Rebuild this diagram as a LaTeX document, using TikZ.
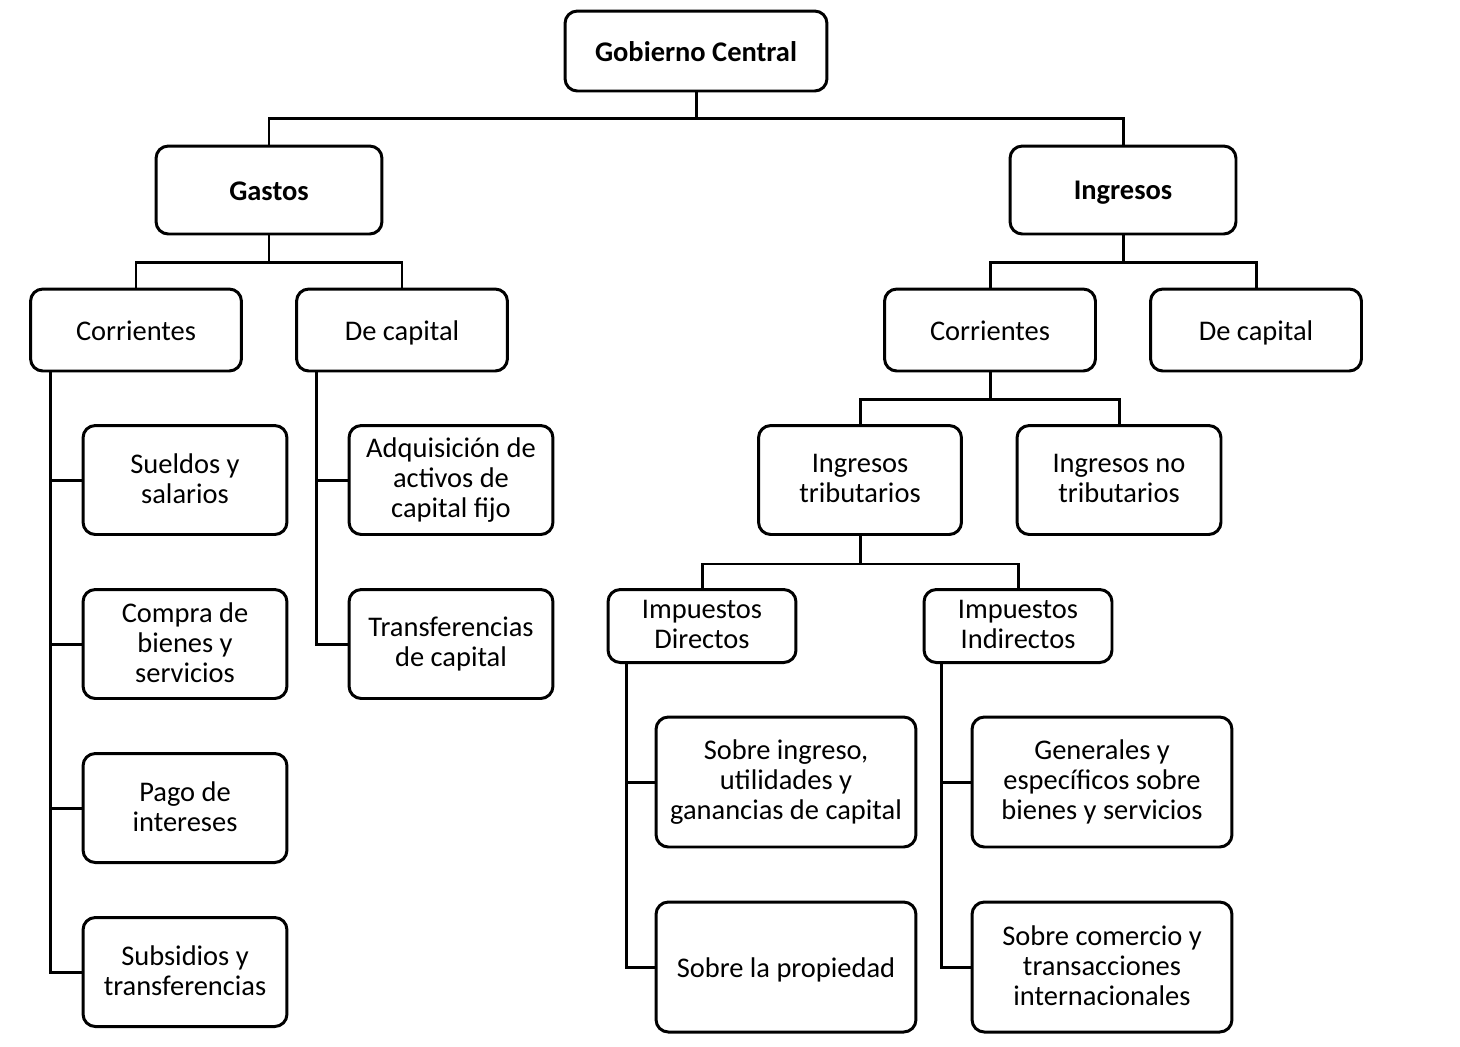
\documentclass[tikz,border=0pt]{standalone}
\usepackage{fontspec}
\setmainfont{Carlito}
\usetikzlibrary{calc}
\newcommand{\puntal}{\rule[-1.6pt]{0pt}{15.6pt}}
\begin{document}
\begin{tikzpicture}[x=0.02cm, y=-0.02cm,
        caja/.style={draw, rectangle, rounded corners=7pt, line width=1.7pt, align=center, inner sep=0pt,
            font=\fontsize{16.2}{17.2}\selectfont, execute at begin node=\puntal, execute at end node=\puntal},
        linea/.style={line width=1.7pt}]
        \useasboundingbox (0,0) rectangle (1460,1046);
        % niveles superiores
        \node[caja, minimum width=5.24cm, minimum height=1.6cm, font=\fontsize{16.2}{17.2}\selectfont\bfseries] (GC) at (696,51) {Gobierno Central};
        \node[caja, minimum width=4.52cm, minimum height=1.76cm, font=\fontsize{16.2}{17.2}\selectfont\bfseries] (Gastos) at (269,190) {Gastos};
        \node[caja, minimum width=4.52cm, minimum height=1.76cm, font=\fontsize{16.2}{17.2}\selectfont\bfseries] (Ingresos) at (1123,190) {Ingresos};
        \node[caja, minimum width=4.22cm, minimum height=1.64cm] (GCor) at (136,330) {Corrientes};
        \node[caja, minimum width=4.22cm, minimum height=1.64cm] (GCap) at (402,330) {De capital};
        \node[caja, minimum width=4.22cm, minimum height=1.64cm] (ICor) at (990,330) {Corrientes};
        \node[caja, minimum width=4.22cm, minimum height=1.64cm] (ICap) at (1256,330) {De capital};
        % gastos corrientes
        \node[caja, minimum width=4.08cm, minimum height=2.18cm] (Sueldos) at (185,480) {Sueldos y\\salarios};
        \node[caja, minimum width=4.08cm, minimum height=2.18cm] (Compra) at (185,644) {Compra de\\bienes y\\servicios};
        \node[caja, minimum width=4.08cm, minimum height=2.18cm] (Pago) at (185,808) {Pago de\\intereses};
        \node[caja, minimum width=4.08cm, minimum height=2.18cm] (Subsidios) at (185,972) {Subsidios y\\transferencias};
        % gastos de capital
        \node[caja, minimum width=4.08cm, minimum height=2.18cm] (Adquisicion) at (451,480) {Adquisición de\\activos de\\capital fijo};
        \node[caja, minimum width=4.08cm, minimum height=2.18cm] (Transf) at (451,644) {Transferencias\\de capital};
        % ingresos corrientes
        \node[caja, minimum width=4.06cm, minimum height=2.18cm] (ITrib) at (860,480) {Ingresos\\tributarios};
        \node[caja, minimum width=4.08cm, minimum height=2.18cm] (INoTrib) at (1119,480) {Ingresos no\\tributarios};
        \node[caja, minimum width=3.76cm, minimum height=1.46cm] (IDir) at (702,626) {Impuestos\\Directos};
        \node[caja, minimum width=3.76cm, minimum height=1.46cm] (IInd) at (1018,626) {Impuestos\\Indirectos};
        \node[caja, minimum width=5.2cm, minimum height=2.6cm] (SIngreso) at (786,782) {Sobre ingreso,\\utilidades y\\ganancias de capital};
        \node[caja, minimum width=5.2cm, minimum height=2.6cm] (SProp) at (786,967) {Sobre la propiedad};
        \node[caja, minimum width=5.2cm, minimum height=2.6cm] (Generales) at (1102,782) {Generales y\\específicos sobre\\bienes y servicios};
        \node[caja, minimum width=5.2cm, minimum height=2.6cm] (SComercio) at (1102,967) {Sobre comercio y\\transacciones\\internacionales};
        % conexiones
        \draw[linea] (GC.south) -- ++(0,26) -| (Gastos.north);
        \draw[linea] (GC.south) -- ++(0,26) -| (Ingresos.north);
        \draw[linea] (Gastos.south) -- ++(0,27) -| (GCor.north);
        \draw[linea] (Gastos.south) -- ++(0,27) -| (GCap.north);
        \draw[linea] (Ingresos.south) -- ++(0,27) -| (ICor.north);
        \draw[linea] (Ingresos.south) -- ++(0,27) -| (ICap.north);
        \draw[linea] (ICor.south) -- ++(0,27) -| (ITrib.north);
        \draw[linea] (ICor.south) -- ++(0,27) -| (INoTrib.north);
        \draw[linea] (ITrib.south) -- ++(0,28) -| (IDir.north);
        \draw[linea] (ITrib.south) -- ++(0,28) -| (IInd.north);
        \foreach \n in {Sueldos,Compra,Pago,Subsidios}
            \draw[linea] ([xshift=0.42cm]GCor.south west) |- (\n.west);
        \foreach \n in {Adquisicion,Transf}
            \draw[linea] ([xshift=0.42cm]GCap.south west) |- (\n.west);
        \foreach \n in {SIngreso,SProp}
            \draw[linea] ([xshift=0.4cm]IDir.south west) |- (\n.west);
        \foreach \n in {Generales,SComercio}
            \draw[linea] ([xshift=0.38cm]IInd.south west) |- (\n.west);
    \end{tikzpicture}
\end{document}
